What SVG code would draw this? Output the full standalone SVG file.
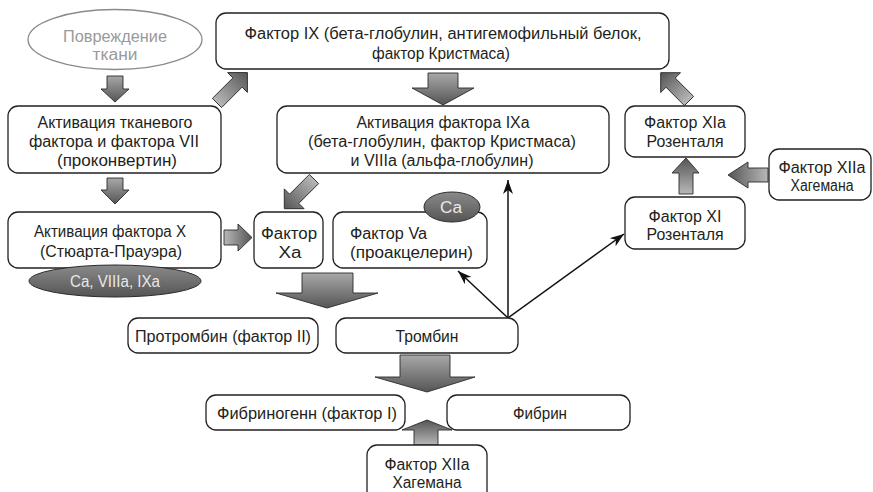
<svg xmlns="http://www.w3.org/2000/svg" width="873" height="492" viewBox="0 0 873 492">
<defs>
<style>
.box{fill:#fff;stroke:#231f20;stroke-width:1.3}
.t{font-family:"Liberation Sans",Arial,sans-serif;font-size:16px;fill:#231f20;text-anchor:middle}
.ts{text-anchor:start}
.lt{fill:#e8e8e8}
.gr{fill:#9a9a9a}
.ba{stroke:#2a2a2a;stroke-width:0.9;stroke-linejoin:miter}
.thin{stroke:#111;stroke-width:1.5;fill:none;marker-end:url(#ah)}
</style>
<linearGradient id="gR" x1="0" y1="0" x2="1" y2="0"><stop offset="0" stop-color="#b8b8b8"/><stop offset="1" stop-color="#555"/></linearGradient>
<linearGradient id="gL" x1="1" y1="0" x2="0" y2="0"><stop offset="0" stop-color="#b8b8b8"/><stop offset="1" stop-color="#555"/></linearGradient>
<linearGradient id="gD" x1="0" y1="0" x2="0" y2="1"><stop offset="0" stop-color="#a8a8a8"/><stop offset="1" stop-color="#555"/></linearGradient>
<linearGradient id="gU" x1="0" y1="1" x2="0" y2="0"><stop offset="0" stop-color="#b8b8b8"/><stop offset="1" stop-color="#555"/></linearGradient>
<linearGradient id="gE" x1="0" y1="0" x2="0" y2="1"><stop offset="0" stop-color="#8a8a8a"/><stop offset="1" stop-color="#555"/></linearGradient>
<marker id="ah" viewBox="0 0 14 10" refX="14" refY="5" markerWidth="14" markerHeight="10" markerUnits="userSpaceOnUse" orient="auto">
<path d="M0,0 L14,5 L0,10 L4,5 z" fill="#111"/>
</marker>
</defs>

<g id="connectors">
<polygon class="ba" fill="url(#gD)" points="107,76 123,76 123,89 129,89 115,102 101,89 107,89"/>
<polygon class="ba" fill="url(#gD)" points="107,178 123,178 123,190 129,190 115,204 101,190 107,190"/>
<polygon class="ba" fill="url(#gR)" points="224,230 238,230 238,224 252,237.5 238,251 238,245 224,245"/>
<polygon class="ba" fill="url(#gD)" points="428,73 458,73 458,88 474,88 443,105 412,88 428,88"/>
<polygon class="ba" fill="url(#gU)" points="679,194 693,194 693,173 699,173 686,158 672,173 679,173"/>
<polygon class="ba" fill="url(#gL)" points="768,168 748,168 748,162 728,175 748,188 748,182 768,182"/>
<polygon class="ba" fill="url(#gD)" points="302,273 353,273 353,293 378,293 327,308 276,293 302,293"/>
<polygon class="ba" fill="url(#gD)" points="400,355 450,355 450,377 475,377 427,392 375,377 400,377"/>
<polygon class="ba" fill="url(#gU)" points="414,445 438,445 438,430 452,430 427,420 402,430 414,430"/>
<polygon class="ba" fill="url(#gR)" transform="translate(217,103) rotate(-45)" points="0,-6.5 29,-6.5 29,-14 43,0 29,14 29,6.5 0,6.5"/>
<polygon class="ba" fill="url(#gR)" transform="translate(689,101) rotate(-135)" points="0,-6.5 26,-6.5 26,-14 40,0 26,14 26,6.5 0,6.5"/>
<polygon class="ba" fill="url(#gR)" transform="translate(314,179) rotate(135)" points="0,-6.5 28,-6.5 28,-14 42,0 28,14 28,6.5 0,6.5"/>
<line class="thin" x1="508" y1="318" x2="508" y2="180"/>
<line class="thin" x1="508" y1="318" x2="458" y2="271"/>
<line class="thin" x1="508" y1="318" x2="624" y2="234"/>
</g>

<g id="n-injury">
<ellipse cx="115" cy="39.5" rx="87" ry="30" fill="#fff" stroke="#8a8a8a" stroke-width="1.3"/>
<text class="t gr" x="115" y="42" textLength="104" lengthAdjust="spacingAndGlyphs">Повреждение</text>
<text class="t gr" x="115" y="60" textLength="45" lengthAdjust="spacingAndGlyphs">ткани</text>
</g>

<g id="n-f9">
<rect class="box" x="216" y="13" width="453" height="56" rx="10"/>
<text class="t" x="443" y="39" textLength="397" lengthAdjust="spacingAndGlyphs">Фактор IX (бета-глобулин, антигемофильный белок,</text>
<text class="t" x="441" y="59" textLength="138" lengthAdjust="spacingAndGlyphs">фактор Кристмаса)</text>
</g>

<g id="n-tf7">
<rect class="box" x="8" y="106" width="213" height="67" rx="10"/>
<text class="t" x="115" y="128" textLength="155" lengthAdjust="spacingAndGlyphs">Активация тканевого</text>
<text class="t" x="114" y="147" textLength="170" lengthAdjust="spacingAndGlyphs">фактора и фактора VII</text>
<text class="t" x="117" y="166" textLength="120" lengthAdjust="spacingAndGlyphs">(проконвертин)</text>
</g>

<g id="n-f10">
<rect class="box" x="8" y="212" width="213" height="56" rx="10"/>
<text class="t" x="110" y="237" textLength="152" lengthAdjust="spacingAndGlyphs">Активация фактора X</text>
<text class="t" x="111" y="257" textLength="142" lengthAdjust="spacingAndGlyphs">(Стюарта-Прауэра)</text>
</g>

<g id="n-ca8-9">
<ellipse cx="115" cy="281" rx="86" ry="16" fill="url(#gE)" stroke="#2a2a2a" stroke-width="1"/>
<text class="t lt" x="115" y="287" textLength="90" lengthAdjust="spacingAndGlyphs">Ca, VIIIa, IXa</text>
</g>

<g id="n-f10a">
<rect class="box" x="254" y="212" width="69" height="56" rx="10"/>
<text class="t" x="289" y="239" textLength="56" lengthAdjust="spacingAndGlyphs">Фактор</text>
<text class="t" x="290" y="258" textLength="23" lengthAdjust="spacingAndGlyphs">Xa</text>
</g>

<g id="n-f5a">
<rect class="box" x="333" y="212" width="154" height="56" rx="10"/>
<text class="t ts" x="350" y="239" textLength="77" lengthAdjust="spacingAndGlyphs">Фактор Va</text>
<text class="t ts" x="350" y="258" textLength="123" lengthAdjust="spacingAndGlyphs">(проакцелерин)</text>
</g>

<g id="n-ca">
<ellipse cx="452" cy="207" rx="28" ry="15" fill="url(#gE)" stroke="#2a2a2a" stroke-width="1"/>
<text class="t lt" x="451" y="213" textLength="22" lengthAdjust="spacingAndGlyphs">Ca</text>
</g>

<g id="n-f9a">
<rect class="box" x="277" y="106" width="332" height="67" rx="10"/>
<text class="t" x="443" y="128" textLength="173" lengthAdjust="spacingAndGlyphs">Активация фактора IXa</text>
<text class="t" x="442" y="147" textLength="268" lengthAdjust="spacingAndGlyphs">(бета-глобулин, фактор Кристмаса)</text>
<text class="t" x="442" y="166" textLength="183" lengthAdjust="spacingAndGlyphs">и VIIIa (альфа-глобулин)</text>
</g>

<g id="n-f11a">
<rect class="box" x="625" y="106" width="120" height="51" rx="10"/>
<text class="t" x="685" y="128" textLength="82" lengthAdjust="spacingAndGlyphs">Фактор XIa</text>
<text class="t" x="685" y="147" textLength="77" lengthAdjust="spacingAndGlyphs">Розенталя</text>
</g>

<g id="n-f11">
<rect class="box" x="625" y="197" width="120" height="52" rx="10"/>
<text class="t" x="685" y="222" textLength="73" lengthAdjust="spacingAndGlyphs">Фактор XI</text>
<text class="t" x="685" y="240" textLength="77" lengthAdjust="spacingAndGlyphs">Розенталя</text>
</g>

<g id="n-f12a-right">
<rect class="box" x="769" y="149" width="102" height="51" rx="10"/>
<text class="t" x="822" y="173" textLength="87" lengthAdjust="spacingAndGlyphs">Фактор XIIa</text>
<text class="t" x="822" y="191" textLength="63" lengthAdjust="spacingAndGlyphs">Хагемана</text>
</g>

<g id="n-prothrombin">
<rect class="box" x="128" y="318" width="190" height="35" rx="10"/>
<text class="t" x="223" y="342" textLength="176" lengthAdjust="spacingAndGlyphs">Протромбин (фактор II)</text>
</g>

<g id="n-thrombin">
<rect class="box" x="336" y="318" width="182" height="35" rx="10"/>
<text class="t" x="427" y="342" textLength="63" lengthAdjust="spacingAndGlyphs">Тромбин</text>
</g>

<g id="n-fibrinogen">
<rect class="box" x="206" y="395" width="199" height="35" rx="10"/>
<text class="t" x="307" y="419" textLength="180" lengthAdjust="spacingAndGlyphs">Фибриногенн (фактор I)</text>
</g>

<g id="n-fibrin">
<rect class="box" x="447" y="395" width="183" height="35" rx="10"/>
<text class="t" x="540" y="419" textLength="54" lengthAdjust="spacingAndGlyphs">Фибрин</text>
</g>

<g id="n-f12a-bottom">
<rect class="box" x="367" y="445" width="120" height="58" rx="10"/>
<text class="t" x="427" y="470" textLength="85" lengthAdjust="spacingAndGlyphs">Фактор XIIa</text>
<text class="t" x="427" y="488" textLength="69" lengthAdjust="spacingAndGlyphs">Хагемана</text>
</g>
</svg>
